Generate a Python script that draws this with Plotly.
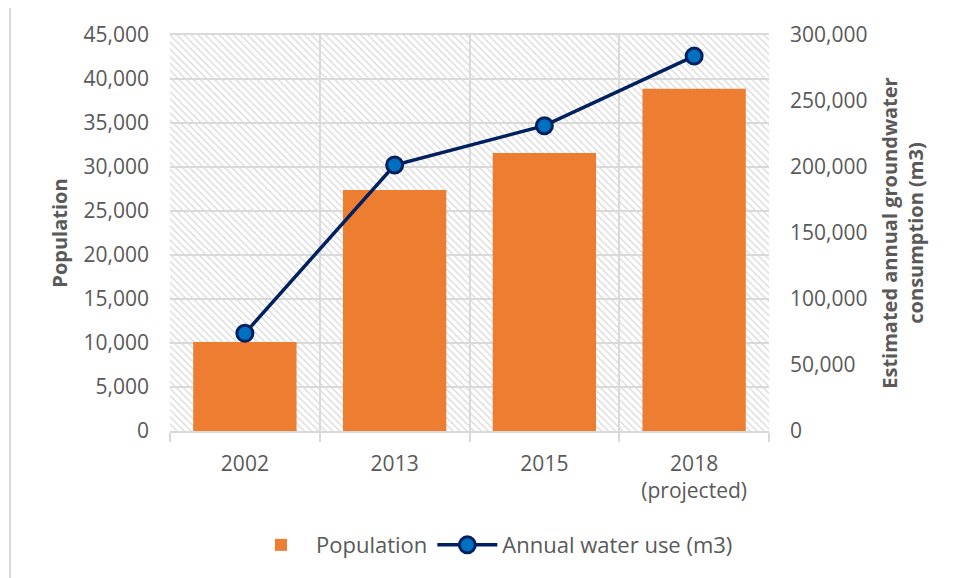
import plotly.graph_objects as go

categories = ["2002", "2013", "2015", "2018<br>(projected)"]
population = [10100, 27400, 31600, 38900]
water_use = [74000, 201500, 231300, 284000]

left_max = 45000
right_max = 300000

FONT = "Open Sans"
GREY = "#595959"
GRID = "#d9d9d9"
FS = 20

fig = go.Figure()

# hatched plot-area background (spans full category width)
fig.add_trace(go.Bar(
    x=categories, y=[left_max] * len(categories), width=1,
    marker=dict(color="rgba(0,0,0,0)", line=dict(width=0),
                pattern=dict(shape="\\", fgcolor="#dadada", bgcolor="rgba(0,0,0,0)",
                             size=5, solidity=0.28, fillmode="replace")),
    showlegend=False, hoverinfo="skip",
))

fig.add_trace(go.Bar(
    x=categories, y=population, name="Population", width=0.69,
    marker=dict(color="#ED7D31", line=dict(width=0)),
))

fig.add_trace(go.Scatter(
    x=categories, y=water_use, name="Annual water use (m3)", yaxis="y2",
    mode="lines+markers",
    line=dict(color="#002060", width=3.5),
    marker=dict(size=16, color="#0070C0", line=dict(color="#002060", width=3)),
))

# the page body adds an 8px offset; margins compensate for it
fig.update_layout(
    width=960, height=578,
    margin=dict(l=162, r=199, t=27, b=155),
    paper_bgcolor="white", plot_bgcolor="white",
    barmode="overlay",
    font=dict(family=FONT, size=FS, color=GREY),
    xaxis=dict(
        type="category", tickson="boundaries", showgrid=True, gridcolor=GRID, gridwidth=1.5,
        ticks="outside", ticklen=9, tickcolor=GRID, tickwidth=1.5,
        showline=True, linecolor=GRID, linewidth=1.5, mirror=True,
        tickfont=dict(family=FONT, size=FS + 1, color=GREY),
        range=[-0.5, 3.5], ticklabelstandoff=13,
    ),
    yaxis=dict(
        range=[0, left_max], dtick=5000, tickformat=",", showgrid=True,
        gridcolor=GRID, gridwidth=1.5, zeroline=False,
        tickfont=dict(family=FONT, size=FS + 1, color=GREY),
        title=dict(text="<b>Population</b>", font=dict(family=FONT, size=FS, color=GREY), standoff=10),
        ticklabelstandoff=20,
    ),
    yaxis2=dict(
        range=[0, right_max], dtick=50000, tickformat=",", overlaying="y", side="right",
        showgrid=False, zeroline=False,
        tickfont=dict(family=FONT, size=FS + 1, color=GREY),
        title=dict(text="<b>Estimated annual groundwater<br>consumption (m3)</b>",
                   font=dict(family=FONT, size=FS, color=GREY), standoff=16),
        ticklabelstandoff=20,
    ),
    legend=dict(orientation="h", x=(492 - 170) / 599, xanchor="center", y=-0.288, yanchor="middle",
                font=dict(family=FONT, size=FS + 2, color=GREY), itemwidth=60,
                bgcolor="rgba(0,0,0,0)"),
    shapes=[dict(type="rect", xref="paper", yref="paper",
                 x0=-160 / 599, x1=800 / 599, y0=-170 / 396, y1=425 / 396,
                 line=dict(color=GRID, width=2), fillcolor="rgba(0,0,0,0)", layer="below")],
)

fig.write_html("out.html")
